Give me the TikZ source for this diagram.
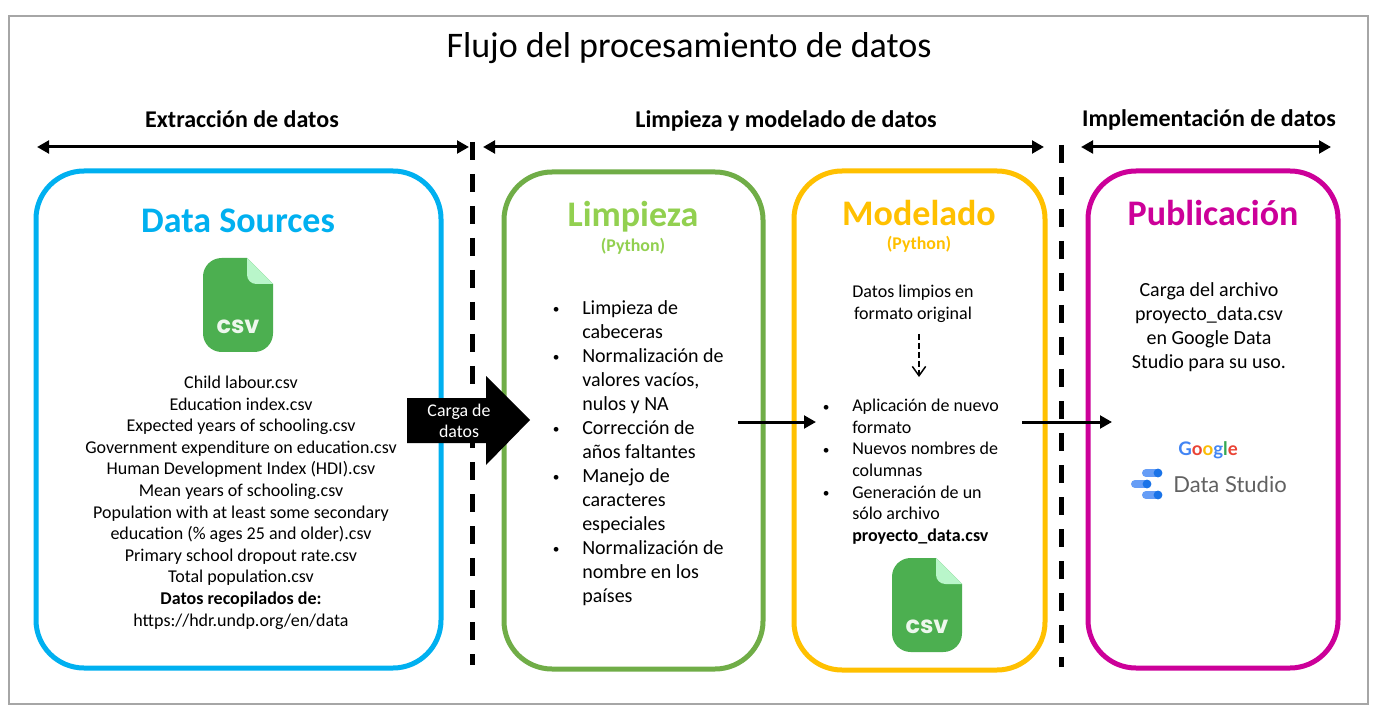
\documentclass[tikz,border=0pt]{standalone}
\usepackage{fontspec}
\setmainfont{Carlito}
\newfontfamily\lat{Lato}
\newfontfamily\pop{Poppins}
\usetikzlibrary{arrows.meta}
\definecolor{cblue}{HTML}{00B0F0}
\definecolor{cgreen}{HTML}{70AD47}
\definecolor{cyellow}{HTML}{FFC000}
\definecolor{cmag}{HTML}{CC0099}
\definecolor{clime}{HTML}{92D050}
\definecolor{cfile}{HTML}{4CAF50}
\definecolor{cfold}{HTML}{B9F6CA}
\definecolor{dsbar}{HTML}{669DF6}
\definecolor{dsdot}{HTML}{1A73E8}
\newcommand{\bul}{\makebox[0pt][r]{\raisebox{0.5pt}{\fontsize{10}{10}\selectfont\textbullet}\hspace{17pt}}}
\tikzset{
  x=0.75pt,y=-0.75pt,
  panel/.style={draw=#1,line width=3.75pt,fill=none,rounded corners=36pt},
  body/.style={inner sep=0,align=center,font=\fontsize{13.5}{16.2}\selectfont},
  phase/.style={inner sep=0,font=\fontsize{18}{20}\selectfont\bfseries},
  heading/.style={inner sep=0,font=\fontsize{27}{30}\selectfont\bfseries},
  sub/.style={inner sep=0,font=\fontsize{13.4}{16}\selectfont\bfseries},
  span/.style={line width=2.25pt,{Triangle[length=9pt,width=9.5pt]}-{Triangle[length=9pt,width=9.5pt]}},
  flow/.style={line width=2.25pt,-{Triangle[length=9pt,width=9.5pt]}},
  divider/.style={line width=3.75pt,dash pattern=on 13.5pt off 10.5pt},
}
\newcommand{\csvicon}[1]{%
  \begin{scope}[shift={#1}]
    \fill[cfile] (44,0) -- (70,26) [rounded corners=14pt] -- (70,94) -- (0,94) -- (0,0) [sharp corners] -- (44,0) -- cycle;
    \fill[cfold] (44,0) -- (70,26) [rounded corners=7pt] -- (44,26) [sharp corners] -- (44,0) -- cycle;
    \node[inner sep=0,text=white!90!cfile,font=\pop\fontsize{18}{18}\selectfont\bfseries] at (35,69) {csv};
  \end{scope}}
\begin{document}
\begin{tikzpicture}
\useasboundingbox (0,0) rectangle (1377,716);
\fill[white] (0,0) rectangle (1377,716);
\draw[draw=black!35,line width=1.5pt] (9,16) rectangle (1368,704);
\node[inner sep=0,font=\fontsize{27}{32}\selectfont] (title) at (689,48.5) {Flujo del procesamiento de datos};

\node[phase] (ph1) at (242,119.5) {Extracción de datos};
\node[phase] (ph2) at (786,121) {Limpieza y modelado de datos};
\node[phase] (ph3) at (1209,120) {Implementación de datos};
\coordinate (s1a) at (37,147); \coordinate (s1b) at (469,147);
\coordinate (s2a) at (483,147); \coordinate (s2b) at (1044,147);
\coordinate (s3a) at (1081,147); \coordinate (s3b) at (1331,147);
\draw[span] (s1a) -- (s1b);
\draw[span] (s2a) -- (s2b);
\draw[span] (s3a) -- (s3b);

\draw[panel=cblue] (36,171) rectangle (441,668);
\draw[panel=cgreen] (504,172) rectangle (763,669);
\draw[panel=cyellow] (794,171) rectangle (1045,670);
\draw[panel=cmag] (1088,171) rectangle (1338,668);

\coordinate (d1a) at (472.5,142); \coordinate (d1b) at (472.5,665);
\coordinate (d2a) at (1061,145); \coordinate (d2b) at (1061,667);
\draw[divider] (d1a) -- (d1b);
\draw[divider] (d2a) -- (d2b);

\node[heading,text=cblue] (hsrc) at (238,221) {Data Sources};
\node[heading,text=clime] (hlim) at (633,217) {Limpieza};
\node[sub,text=clime] (slim) at (633,246) {(Python)};
\node[heading,text=cyellow] (hmod) at (919,213) {Modelado};
\node[sub,text=cyellow] (smod) at (919,244) {(Python)};
\node[heading,text=cmag] (hpub) at (1213,213) {Publicación};

\csvicon{(203,258)}
\csvicon{(892,558)}

\node[body] (files) at (241,502.5) {Child labour.csv\\Education index.csv\\Expected years of schooling.csv\\Government expenditure on education.csv\\Human Development Index (HDI).csv\\Mean years of schooling.csv\\Population with at least some secondary\\education (\% ages 25 and older).csv\\Primary school dropout rate.csv\\Total population.csv\\\textbf{Datos recopilados de:}\\https://hdr.undp.org/en/data};

\node[inner sep=0,anchor=north west,align=left,font=\fontsize{15}{18}\selectfont] (lim) at (582,300) {\bul Limpieza de\\cabeceras\\\bul Normalización de\\valores vacíos,\\nulos y NA\\\bul Corrección de\\años faltantes\\\bul Manejo de\\caracteres\\especiales\\\bul Normalización de\\nombre en los\\países};

\node[body] (orig) at (913,304) {Datos limpios en\\formato original};
\coordinate (oa) at (919,334); \coordinate (ob) at (919,377);
\draw[line width=1.1pt,dash pattern=on 4.5pt off 2.2pt,-{Straight Barb[length=7pt,width=10pt]}] (oa) -- (ob);
\node[inner sep=0,anchor=north west,align=left,font=\fontsize{13.5}{16.2}\selectfont] (mod) at (852,399) {\bul Aplicación de nuevo\\formato\\\bul Nuevos nombres de\\columnas\\\bul Generación de un\\sólo archivo\\\textbf{proyecto\_data.csv}};

\node[inner sep=0,align=center,font=\fontsize{15}{18}\selectfont] (pub) at (1209,327) {Carga del archivo\\proyecto\_data.csv\\en Google Data\\Studio para su uso.};

\fill[black] (407,398) -- (486,398) -- (486,376) -- (530,420) -- (486,465) -- (486,443) -- (407,443) -- cycle;
\node[inner sep=0,align=center,text=white,font=\fontsize{13.4}{16.2}\selectfont] (carga) at (459,421) {Carga de\\datos};

\coordinate (f1a) at (738,422); \coordinate (f1b) at (816,422);
\coordinate (f2a) at (1022,422); \coordinate (f2b) at (1112,422);
\draw[flow] (f1a) -- (f1b);
\draw[flow] (f2a) -- (f2b);

\node[inner sep=0,font=\lat\fontsize{14}{16}\selectfont\bfseries] (goog) at (1208,450) {\textcolor[HTML]{4285F4}{G}\textcolor[HTML]{EA4335}{o}\textcolor[HTML]{FBBC05}{o}\textcolor[HTML]{4285F4}{g}\textcolor[HTML]{34A853}{l}\textcolor[HTML]{EA4335}{e}};
\node[inner sep=0,text=black!62,font=\lat\fontsize{16.5}{18}\selectfont] (ds) at (1230,484) {Data Studio};
\begin{scope}[line cap=round,line width=6pt,color=dsbar]
  \draw (1146,473) -- (1158,473);
  \draw (1135,484) -- (1147,484);
  \draw (1146,495) -- (1158,495);
\end{scope}
\foreach \p in {(1158,473),(1147,484),(1158,495)} \fill[dsdot] \p circle[radius=3.3pt];
\end{tikzpicture}
\end{document}
